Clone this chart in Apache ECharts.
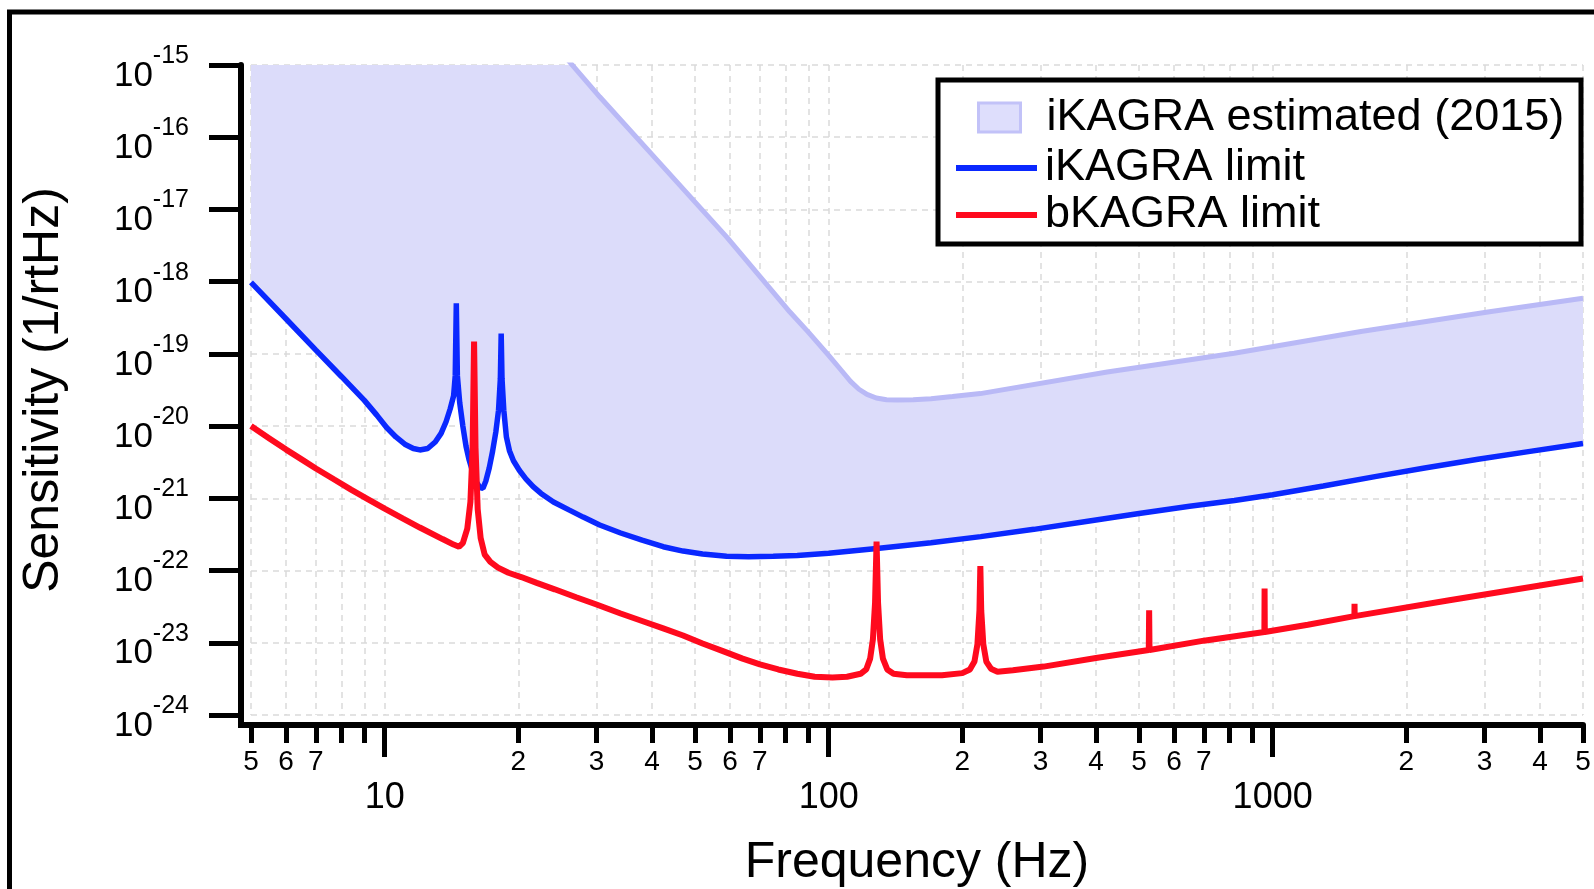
<!DOCTYPE html>
<html>
<head>
<meta charset="utf-8">
<title>KAGRA sensitivity</title>
<script src="https://cdn.jsdelivr.net/npm/echarts@6/dist/echarts.min.js"></script>
<style>
  html, body { margin: 0; padding: 0; background: #fff; }
  #chart { width: 1594px; height: 889px; }
</style>
</head>
<body>
<div id="chart"></div>
<script>
// Series names
const NAME_EST = 'iKAGRA estimated (2015)';
const NAME_ILIMIT = 'iKAGRA limit';
const NAME_BLIMIT = 'bKAGRA limit';
const X_TITLE = 'Frequency (Hz)';
const Y_TITLE = 'Sensitivity (1/rtHz)';

// Upper edge of the iKAGRA estimated band: [frequency Hz, sensitivity 1/rtHz]
const estUpper = [
  [24, 2.0e-15], [30.5, 3.63e-16], [42.4, 3.89e-17], [58.9, 4.17e-18],
  [81.8, 3.80e-19], [90, 2.0e-19], [100, 9.55e-20], [106.5, 6.03e-20],
  [112, 4.17e-20], [117, 3.24e-20], [122, 2.75e-20], [128, 2.45e-20],
  [135, 2.32e-20], [143, 2.29e-20], [155, 2.32e-20], [170, 2.40e-20],
  [190, 2.57e-20], [219.6, 2.82e-20], [424, 5.62e-20], [819, 1.02e-19],
  [1581, 2.04e-19], [3052, 3.80e-19], [5000, 5.89e-19]
];

// iKAGRA limit (lower edge of the band)
const ikagraLimit = [
  [5, 9.77e-19], [6, 3.04e-19], [7, 1.13e-19], [8, 4.83e-20], [9, 2.27e-20],
  [9.6, 1.42e-20], [10.1, 9.55e-21], [10.6, 7.08e-21], [11.1, 5.62e-21],
  [11.6, 4.90e-21], [12.0, 4.68e-21], [12.5, 4.90e-21], [13.0, 6.03e-21],
  [13.4, 7.94e-21], [13.75, 1.15e-20], [14.05, 1.74e-20], [14.3, 2.63e-20],
  [14.42, 5.0e-20], [14.5, 5.0e-19], [14.58, 5.0e-20], [14.76, 2.09e-20],
  [15.0, 1.0e-20], [15.25, 5.25e-21], [15.5, 3.39e-21], [15.8, 2.29e-21],
  [16.1, 1.66e-21], [16.4, 1.41e-21], [16.65, 1.38e-21], [16.9, 1.74e-21],
  [17.2, 2.63e-21], [17.5, 4.47e-21], [17.8, 8.32e-21], [18.05, 1.66e-20],
  [18.22, 4.5e-20], [18.3, 1.92e-19], [18.38, 4.5e-20], [18.55, 1.66e-20],
  [18.8, 7.08e-21], [19.1, 4.57e-21], [19.5, 3.31e-21], [20.1, 2.45e-21],
  [20.8, 1.86e-21], [21.6, 1.45e-21], [22.5, 1.17e-21], [24, 8.91e-22],
  [26, 6.92e-22], [28, 5.50e-22], [30.5, 4.27e-22], [34, 3.31e-22],
  [38, 2.63e-22], [42.4, 2.14e-22], [47, 1.86e-22], [52, 1.70e-22],
  [58.9, 1.58e-22], [66, 1.55e-22], [75, 1.58e-22], [85, 1.62e-22],
  [100, 1.74e-22], [130, 2.04e-22], [170, 2.43e-22], [220, 2.95e-22],
  [290, 3.72e-22], [380, 4.79e-22], [500, 6.17e-22], [650, 7.76e-22],
  [820, 9.33e-22], [1000, 1.12e-21], [1300, 1.48e-21], [1700, 2.0e-21],
  [2200, 2.63e-21], [2900, 3.47e-21], [3800, 4.47e-21], [5000, 5.75e-21]
];

// bKAGRA limit
const bkagraLimit = [
  [5, 1.0e-20], [5.5, 6.76e-21], [6, 4.73e-21], [6.5, 3.46e-21], [7, 2.59e-21],
  [7.7, 1.82e-21], [8.4, 1.32e-21], [9.2, 9.62e-22], [10, 7.18e-22],
  [11, 5.24e-22], [12, 3.94e-22], [13.5, 2.73e-22], [14.3, 2.29e-22],
  [14.7, 2.14e-22], [15.0, 2.40e-22], [15.35, 3.80e-22], [15.6, 8.91e-22],
  [15.78, 5.01e-21], [15.9, 1.48e-19], [16.02, 5.01e-21], [16.2, 7.08e-22],
  [16.45, 2.82e-22], [16.8, 1.66e-22], [17.3, 1.32e-22], [18.0, 1.10e-22],
  [19.0, 9.33e-23], [20.3, 8.13e-23], [22, 6.76e-23], [24.15, 5.50e-23],
  [27, 4.27e-23], [30, 3.39e-23], [34, 2.54e-23], [38, 2.0e-23],
  [42.4, 1.58e-23], [47, 1.26e-23], [52, 9.77e-24], [58, 7.59e-24],
  [64, 6.03e-24], [70, 5.01e-24], [77, 4.27e-24], [85, 3.72e-24],
  [93, 3.39e-24], [102, 3.31e-24], [110, 3.39e-24],
  [118, 3.72e-24], [121.5, 4.27e-24], [124, 6.03e-24], [125.8, 1.12e-23],
  [127.2, 3.55e-23], [128.2, 2.51e-22], [129.2, 3.55e-23], [130.6, 1.12e-23],
  [132.5, 6.03e-24], [135.5, 4.27e-24], [140, 3.72e-24], [150, 3.55e-24],
  [180, 3.55e-24], [200, 3.80e-24], [208, 4.27e-24], [213, 5.50e-24],
  [216.3, 9.55e-24], [218.6, 2.82e-23], [219.6, 1.15e-22], [220.6, 2.82e-23],
  [223, 9.55e-24], [226.5, 5.50e-24], [232, 4.37e-24], [240, 3.98e-24],
  [260, 4.17e-24], [305, 4.68e-24], [400, 6.17e-24], [526, 7.94e-24],
  [527, 2.82e-23], [528, 7.94e-24], [700, 1.07e-23], [958, 1.41e-23],
  [959, 5.62e-23], [960, 1.41e-23], [1200, 1.78e-23], [1528, 2.34e-23],
  [1529, 3.47e-23], [1530, 2.34e-23], [2500, 3.89e-23], [5000, 7.76e-23]
];

// Axis ranges and tick positions
const xRange = [5, 5000];
const yRange = [1e-24, 1e-15];
const xMinorTicks = [5, 6, 7, 8, 9, 10, 20, 30, 40, 50, 60, 70, 80, 90, 100,
  200, 300, 400, 500, 600, 700, 800, 900, 1000, 2000, 3000, 4000, 5000];
const xMinorLabels = [5, 6, 7, 20, 30, 40, 50, 60, 70, 200, 300, 400, 500, 600, 700,
  2000, 3000, 4000, 5000];
const xMajorTicks = [10, 100, 1000];
const yDecades = [1e-24, 1e-23, 1e-22, 1e-21, 1e-20, 1e-19, 1e-18, 1e-17, 1e-16, 1e-15];

const FONT = '"Liberation Sans", Arial, Helvetica, sans-serif';
const BAND_FILL = '#dcdcfa';
const BAND_EDGE = '#b9b9f6';
const BLUE = '#0a28ff';
const RED = '#ff0a1e';

const gridRect = { left: 251, top: 65, width: 1332, height: 650 };

const chart = echarts.init(document.getElementById('chart'), null, { renderer: 'canvas' });

const dashed = { color: '#dadada', width: 1.5, type: [6, 5] };

const option = {
  animation: false,
  backgroundColor: '#fff',
  textStyle: { fontFamily: FONT, color: '#000' },
  grid: [
    Object.assign({}, gridRect, { containLabel: false }),
    Object.assign({}, gridRect, { containLabel: false })
  ],
  xAxis: [
    {
      type: 'log', logBase: 10, gridIndex: 0, position: 'bottom', offset: 10,
      min: xRange[0], max: xRange[1],
      axisLine: { show: true, onZero: false, lineStyle: { color: '#000', width: 6 } },
      axisTick: { show: true, length: 18, customValues: xMinorTicks,
        lineStyle: { color: '#000', width: 5 } },
      axisLabel: {
        show: true, customValues: xMinorLabels, margin: 23,
        fontSize: 28, color: '#000', fontFamily: FONT,
        formatter: function (v) {
          const p = Math.pow(10, Math.floor(Math.log10(v) + 1e-9));
          return String(Math.round(v / p));
        }
      },
      splitLine: { show: true, lineStyle: dashed },
      minorTick: { show: false }, minorSplitLine: { show: false }
    },
    {
      type: 'log', logBase: 10, gridIndex: 1, position: 'bottom', offset: 10,
      min: xRange[0], max: xRange[1],
      axisLine: { show: false },
      axisTick: { show: true, length: 32, customValues: xMajorTicks,
        lineStyle: { color: '#000', width: 5 } },
      axisLabel: {
        show: true, customValues: xMajorTicks, margin: 55,
        fontSize: 36, color: '#000', fontFamily: FONT,
        formatter: function (v) { return String(Math.round(v)); }
      },
      splitLine: { show: false }
    }
  ],
  yAxis: [
    {
      type: 'log', logBase: 10, gridIndex: 0, position: 'left', offset: 10,
      min: yRange[0], max: yRange[1],
      axisLine: { show: true, onZero: false, lineStyle: { color: '#000', width: 6 } },
      axisTick: { show: true, length: 32, customValues: yDecades,
        lineStyle: { color: '#000', width: 5 } },
      axisLabel: {
        show: true, customValues: yDecades, margin: 52, color: '#000',
        formatter: function (v) {
          return '{b|10}{e|' + Math.round(Math.log10(v)) + '}';
        },
        rich: {
          b: { fontSize: 35, fontFamily: FONT, color: '#000', padding: [22, 0, 0, 0] },
          e: { fontSize: 25, fontFamily: FONT, color: '#000', padding: [0, 0, 18, 0] }
        }
      },
      splitLine: { show: true, lineStyle: dashed },
      name: Y_TITLE, nameLocation: 'middle', nameGap: 172, nameRotate: 90,
      nameTextStyle: { fontSize: 50, color: '#000', fontFamily: FONT }
    },
    {
      type: 'log', logBase: 10, gridIndex: 1, show: false,
      min: yRange[0], max: yRange[1]
    }
  ],
  legend: [
    {
      data: [{ name: NAME_EST, icon: 'rect' }],
      left: 977, top: 95, padding: 0,
      itemWidth: 42, itemHeight: 29,
      itemStyle: { color: '#dedefc', borderColor: '#c2c2f8', borderWidth: 3 },
      textStyle: { fontSize: 45, color: '#000', fontFamily: FONT, padding: [0, 0, 0, 21] },
      selectedMode: false
    },
    {
      data: [{ name: NAME_ILIMIT, icon: 'rect' }, { name: NAME_BLIMIT, icon: 'rect' }],
      orient: 'vertical', left: 956, top: 145.5, padding: 0, itemGap: 2,
      itemWidth: 81, itemHeight: 6,
      textStyle: { fontSize: 45, color: '#000', fontFamily: FONT, padding: [0, 0, 0, 3] },
      selectedMode: false
    }
  ],
  graphic: [
    // outer frame
    { type: 'rect', z: 10, silent: true,
      shape: { x: 9.5, y: 12, width: 1700, height: 1000 },
      style: { fill: 'none', stroke: '#000', lineWidth: 5 } },
    // legend box
    { type: 'rect', z: 3, silent: true,
      shape: { x: 938, y: 80, width: 643, height: 164 },
      style: { fill: '#fff', stroke: '#000', lineWidth: 5 } },
    // joint of the two offset axis lines
    { type: 'polyline', z: 5, silent: true,
      shape: { points: [[241, 712], [241, 725], [254, 725]] },
      style: { fill: 'none', stroke: '#000', lineWidth: 6, lineJoin: 'miter' } },
    // x-axis title, centred under the plot (may run past the bottom edge)
    { type: 'text', z: 5, silent: true, x: 917, y: 863,
      style: { text: X_TITLE, fontSize: 50, fontFamily: FONT, fill: '#000',
        align: 'center', verticalAlign: 'middle' } }
  ],
  series: [
    {
      name: NAME_EST, type: 'custom', xAxisIndex: 0, yAxisIndex: 0,
      color: BAND_FILL, silent: true, z: 2,
      data: estUpper,
      renderItem: function (params, api) {
        if (params.dataIndex !== 0) return null;
        const cs = params.coordSys;
        const upperPx = estUpper.map(function (p) { return api.coord(p); });
        // band: from the left edge along the upper bound, back along the iKAGRA limit
        const pts = [[cs.x, upperPx[0][1]]].concat(upperPx);
        for (let i = ikagraLimit.length - 1; i >= 0; i--) {
          pts.push(api.coord(ikagraLimit[i]));
        }
        return {
          type: 'polygon',
          shape: { points: pts },
          style: { fill: BAND_FILL },
          clipPath: { type: 'rect', shape: { x: cs.x, y: cs.y, width: cs.width, height: cs.height } }
        };
      }
    },
    {
      name: NAME_EST, type: 'line', xAxisIndex: 0, yAxisIndex: 0, z: 3,
      data: estUpper, symbol: 'none', color: BAND_EDGE,
      lineStyle: { color: BAND_EDGE, width: 5 }, silent: true
    },
    {
      name: NAME_ILIMIT, type: 'line', xAxisIndex: 0, yAxisIndex: 0, z: 4,
      data: ikagraLimit, symbol: 'none', color: BLUE,
      lineStyle: { color: BLUE, width: 5.5, join: 'bevel' }, silent: true
    },
    {
      name: NAME_BLIMIT, type: 'line', xAxisIndex: 0, yAxisIndex: 0, z: 5,
      data: bkagraLimit, symbol: 'none', color: RED,
      lineStyle: { color: RED, width: 6, join: 'bevel' }, silent: true
    }
  ]
};

chart.setOption(option);
</script>
</body>
</html>
